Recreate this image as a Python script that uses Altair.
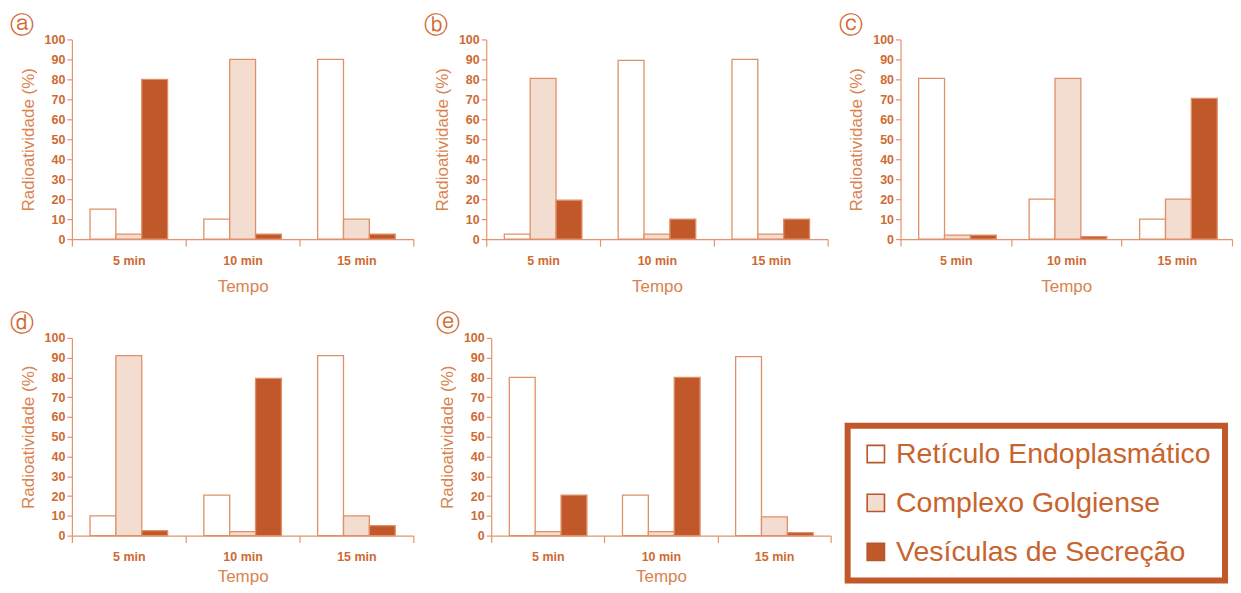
import altair as alt
import pandas as pd

times = ["5 min", "10 min", "15 min"]
series = ["Retículo Endoplasmático", "Complexo Golgiense", "Vesículas de Secreção"]
letters = ["ⓐ", "ⓑ", "ⓒ", "ⓓ", "ⓔ"]

# values per panel: [5 min, 10 min, 15 min]
a_er = [15, 10, 90]
a_go = [2.5, 90, 10]
a_ve = [80, 2.5, 2.5]

b_er = [2.5, 89.5, 90]
b_go = [80.5, 2.5, 2.5]
b_ve = [19.5, 10, 10]

c_er = [80.5, 20, 10]
c_go = [2, 80.5, 20]
c_ve = [2, 1.2, 70.5]

d_er = [10, 20.5, 91]
d_go = [91, 2, 10]
d_ve = [2.5, 79.5, 5]

e_er = [80, 20.5, 90.5]
e_go = [2, 2, 9.5]
e_ve = [20.5, 80, 1.5]

DARK = "#c0582a"
LIGHT = "#f3dcd0"
BAR_STROKE = "#e09068"
AXIS = "#e3946c"
LABEL = "#cf6a33"
TITLE = "#d9834f"
FONT = "Liberation Sans"


def frame(er, go, ve):
    rows = []
    for i, t in enumerate(times):
        for s, v in zip(series, (er[i], go[i], ve[i])):
            rows.append({"time": t, "serie": s, "val": v})
    return pd.DataFrame(rows)


legend = alt.Legend(
    title=None,
    orient="none",
    legendX=777,
    legendY=387,
    symbolType="square",
    symbolSize=300,
    symbolStrokeColor="#b8582a",
    symbolStrokeWidth=1.6,
    labelFontSize=28.5,
    labelFont=FONT,
    labelColor="#c8642e",
    labelOffset=6,
    rowPadding=20,
    padding=14,
    labelLimit=600,
)


def panel(letter, er, go, ve, width, height, dx, title_pad):
    return (
        alt.Chart(
            frame(er, go, ve),
            title=alt.TitleParams(
                letter, anchor="start", frame="bounds", font="DejaVu Sans",
                fontSize=24.5, fontWeight="normal", color=LABEL, dx=dx, offset=-5,
            ),
        )
        .mark_bar(stroke=BAR_STROKE, strokeWidth=1.3)
        .encode(
            x=alt.X(
                "time:N", sort=times,
                scale=alt.Scale(paddingInner=0, paddingOuter=0),
                axis=alt.Axis(
                    title="Tempo", labelAngle=0, tickBand="extent", tickSize=7,
                    labelPadding=8, titlePadding=title_pad,
                ),
            ),
            xOffset=alt.XOffset(
                "serie:N", sort=series,
                scale=alt.Scale(paddingOuter=0.7, paddingInner=0),
            ),
            y=alt.Y(
                "val:Q", scale=alt.Scale(domain=[0, 100]),
                axis=alt.Axis(
                    values=list(range(0, 101, 10)), title="Radioatividade (%)",
                    tickSize=5, labelPadding=2, titlePadding=7,
                ),
            ),
            fill=alt.Fill(
                "serie:N", sort=series,
                scale=alt.Scale(domain=series, range=["#ffffff", LIGHT, DARK]),
                legend=legend,
            ),
        )
        .properties(width=width, height=height)
    )


row1 = alt.hconcat(
    panel(letters[0], a_er, a_go, a_ve, 342, 200, -9, 12),
    panel(letters[1], b_er, b_go, b_ve, 342, 200, -9, 12),
    panel(letters[2], c_er, c_go, c_ve, 332, 200, -9, 12),
    spacing=10,
)
row2 = alt.hconcat(
    panel(letters[3], d_er, d_go, d_ve, 342, 198, -9, 5),
    panel(letters[4], e_er, e_go, e_ve, 340, 198, -2, 5),
    spacing=22,
)

chart = (
    alt.vconcat(row1, row2, spacing=16)
    .resolve_scale(fill="shared")
    .properties(padding={"left": 2, "top": 4, "right": 0, "bottom": 0})
    .configure_view(stroke=None)
    .configure_axis(
        domainColor=AXIS, tickColor=AXIS, grid=False,
        labelFont=FONT, labelFontSize=12.5, labelFontWeight="bold", labelColor=LABEL,
        titleFont=FONT, titleFontSize=17, titleFontWeight="normal", titleColor=TITLE,
        domainWidth=1.2, tickWidth=1.2,
    )
    .configure_legend(strokeColor=DARK, strokeWidth=6, fillColor="white")
)

chart.save("out.html", embed_options={"renderer": "svg", "actions": False})
